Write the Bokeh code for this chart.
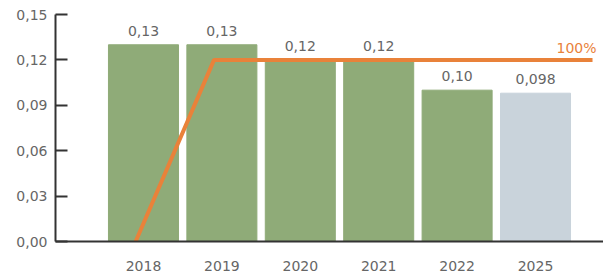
from bokeh.plotting import figure
from bokeh.models import ColumnDataSource, FixedTicker, Range1d
from bokeh.transform import dodge
from bokeh.core.properties import value
from bokeh.embed import file_html
from bokeh.resources import INLINE

# ---- data ----
years = ["2018", "2019", "2020", "2021", "2022", "2025"]
values = [0.13, 0.13, 0.12, 0.12, 0.10, 0.098]
value_labels = ["0,13", "0,13", "0,12", "0,12", "0,10", "0,098"]
bar_colors = ["#8fab78", "#8fab78", "#8fab78", "#8fab78", "#8fab78", "#c9d3db"]
target = [0.0, 0.12, 0.12, 0.12, 0.12, 0.12]
target_label = "100%"
y_ticks = [0.0, 0.03, 0.06, 0.09, 0.12, 0.15]
y_tick_labels = ["0,00", "0,03", "0,06", "0,09", "0,12", "0,15"]

FONT = "DejaVu Sans"
TXT = "#666666"
ORANGE = "#e9823a"

idx = list(range(len(years)))
x_start, x_end = -1.122, 5.867

src = ColumnDataSource(dict(x=idx, top=values, lab=value_labels, color=bar_colors))

p = figure(frame_width=548, frame_height=227, output_backend="svg",
           toolbar_location=None, x_range=Range1d(x_start, x_end),
           y_range=Range1d(0, 0.15), min_border_left=55, min_border_top=14,
           min_border_right=0, min_border_bottom=0)
p.outline_line_color = None
p.xgrid.visible = False
p.ygrid.visible = False
p.background_fill_color = "white"
p.border_fill_color = "white"

p.vbar(x="x", top="top", bottom=0, width=0.893, color="color", source=src)
p.text(x="x", y="top", text="lab", source=src, text_align="center",
       text_baseline="alphabetic", y_offset=-14, text_font=value(FONT),
       text_font_size="14px", text_color=TXT)

# target line (shifted slightly left of bar centres) extending to right edge
lx = idx + [x_end - 0.04]
ly = target + [target[-1]]
lsrc = ColumnDataSource(dict(x=lx, y=ly))
p.line(x=dodge("x", -0.1), y="y", source=lsrc, line_color=ORANGE, line_width=4)
p.text(x=[x_end], y=[target[-1]], text=[target_label], text_align="right",
       text_baseline="alphabetic", x_offset=-7, y_offset=-12,
       text_font=value(FONT), text_font_size="14px", text_color=ORANGE)

# axes
p.yaxis.ticker = FixedTicker(ticks=y_ticks)
p.yaxis.major_label_overrides = {t: l for t, l in zip(y_ticks, y_tick_labels)}
p.yaxis.major_tick_in = 12
p.yaxis.major_tick_out = 0
p.yaxis.minor_tick_line_color = None
p.yaxis.axis_line_width = 2
p.yaxis.major_tick_line_width = 2
p.yaxis.axis_line_color = "#333333"
p.yaxis.major_tick_line_color = "#333333"
p.yaxis.major_label_standoff = 8
p.yaxis.major_label_text_font = FONT
p.yaxis.major_label_text_font_size = "14px"
p.yaxis.major_label_text_color = TXT

p.xaxis.ticker = FixedTicker(ticks=idx)
p.xaxis.major_label_overrides = {i: y for i, y in zip(idx, years)}
p.xaxis.major_tick_in = 0
p.xaxis.major_tick_out = 0
p.xaxis.minor_tick_line_color = None
p.xaxis.axis_line_width = 2
p.xaxis.axis_line_color = "#333333"
p.xaxis.major_label_standoff = 19
p.xaxis.major_label_text_font = FONT
p.xaxis.major_label_text_font_size = "14px"
p.xaxis.major_label_text_color = TXT

open("out.html", "w").write(file_html(p, INLINE))
